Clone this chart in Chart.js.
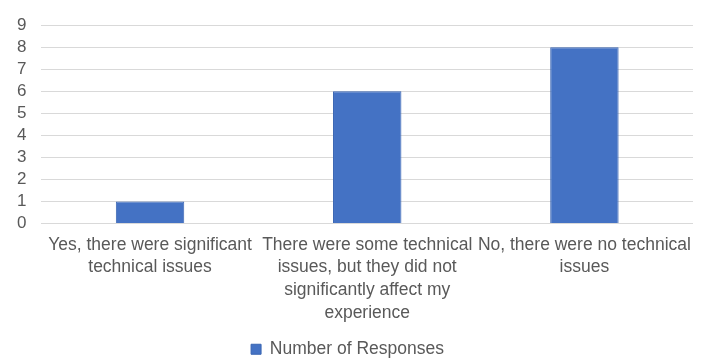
<!DOCTYPE html>
<html>
<head>
<meta charset="utf-8">
<script src="https://cdn.jsdelivr.net/npm/chart.js@4/dist/chart.umd.min.js"></script>
<style>
	html, body { margin: 0; padding: 0; background: #fff; }
	#wrap { width: 704px; height: 358px; position: relative; }
</style>
</head>
<body>
<div id="wrap"><canvas id="myChart"></canvas></div>
<script>
const categories = [
	['Yes, there were significant', 'technical issues'],
	['There were some technical', 'issues, but they did not', 'significantly affect my', 'experience'],
	['No, there were no technical', 'issues'],
];
const responses = [1, 6, 8];
const series_name = 'Number of Responses';
const y_max = 9;

const font_family = '"Liberation Sans", Arial, sans-serif';
const text_color = '#595959';

const ctx = document.getElementById('myChart').getContext('2d');

new Chart(ctx, {
	type: 'bar',
	data: {
		labels: categories,
		datasets: [
			{
				label: series_name,
				data: responses,
				backgroundColor: '#4472C4',
				borderColor: '#3a65b3',
				borderWidth: 1,
				categoryPercentage: 1,
				barPercentage: 0.315,
			},
		],
	},
	options: {
		responsive: true,
		maintainAspectRatio: false,
		animation: false,
		layout: { padding: { left: 2, right: 11, top: 21, bottom: -10 } },
		scales: {
			x: {
				grid: { display: false, drawTicks: false },
				border: { display: false },
				ticks: {
					color: text_color,
					font: { family: font_family, size: 17.5, lineHeight: 1.3 },
					maxRotation: 0,
					autoSkip: false,
					padding: 10,
				},
				// leave a little room between the labels and the legend
				afterFit: (scale) => {
					scale.height += 5;
				},
			},
			y: {
				min: 0,
				max: y_max,
				grid: { color: '#d9d9d9', lineWidth: 1, drawTicks: false },
				border: { display: false },
				ticks: {
					stepSize: 1,
					autoSkip: false,
					color: text_color,
					font: { family: font_family, size: 17 },
					padding: 15,
				},
			},
		},
		plugins: {
			legend: {
				position: 'bottom',
				labels: {
					color: text_color,
					font: { family: font_family, size: 17.5 },
					boxWidth: 10,
					boxHeight: 10,
					padding: 1,
				},
			},
			tooltip: { enabled: false },
		},
	},
});
</script>
</body>
</html>
